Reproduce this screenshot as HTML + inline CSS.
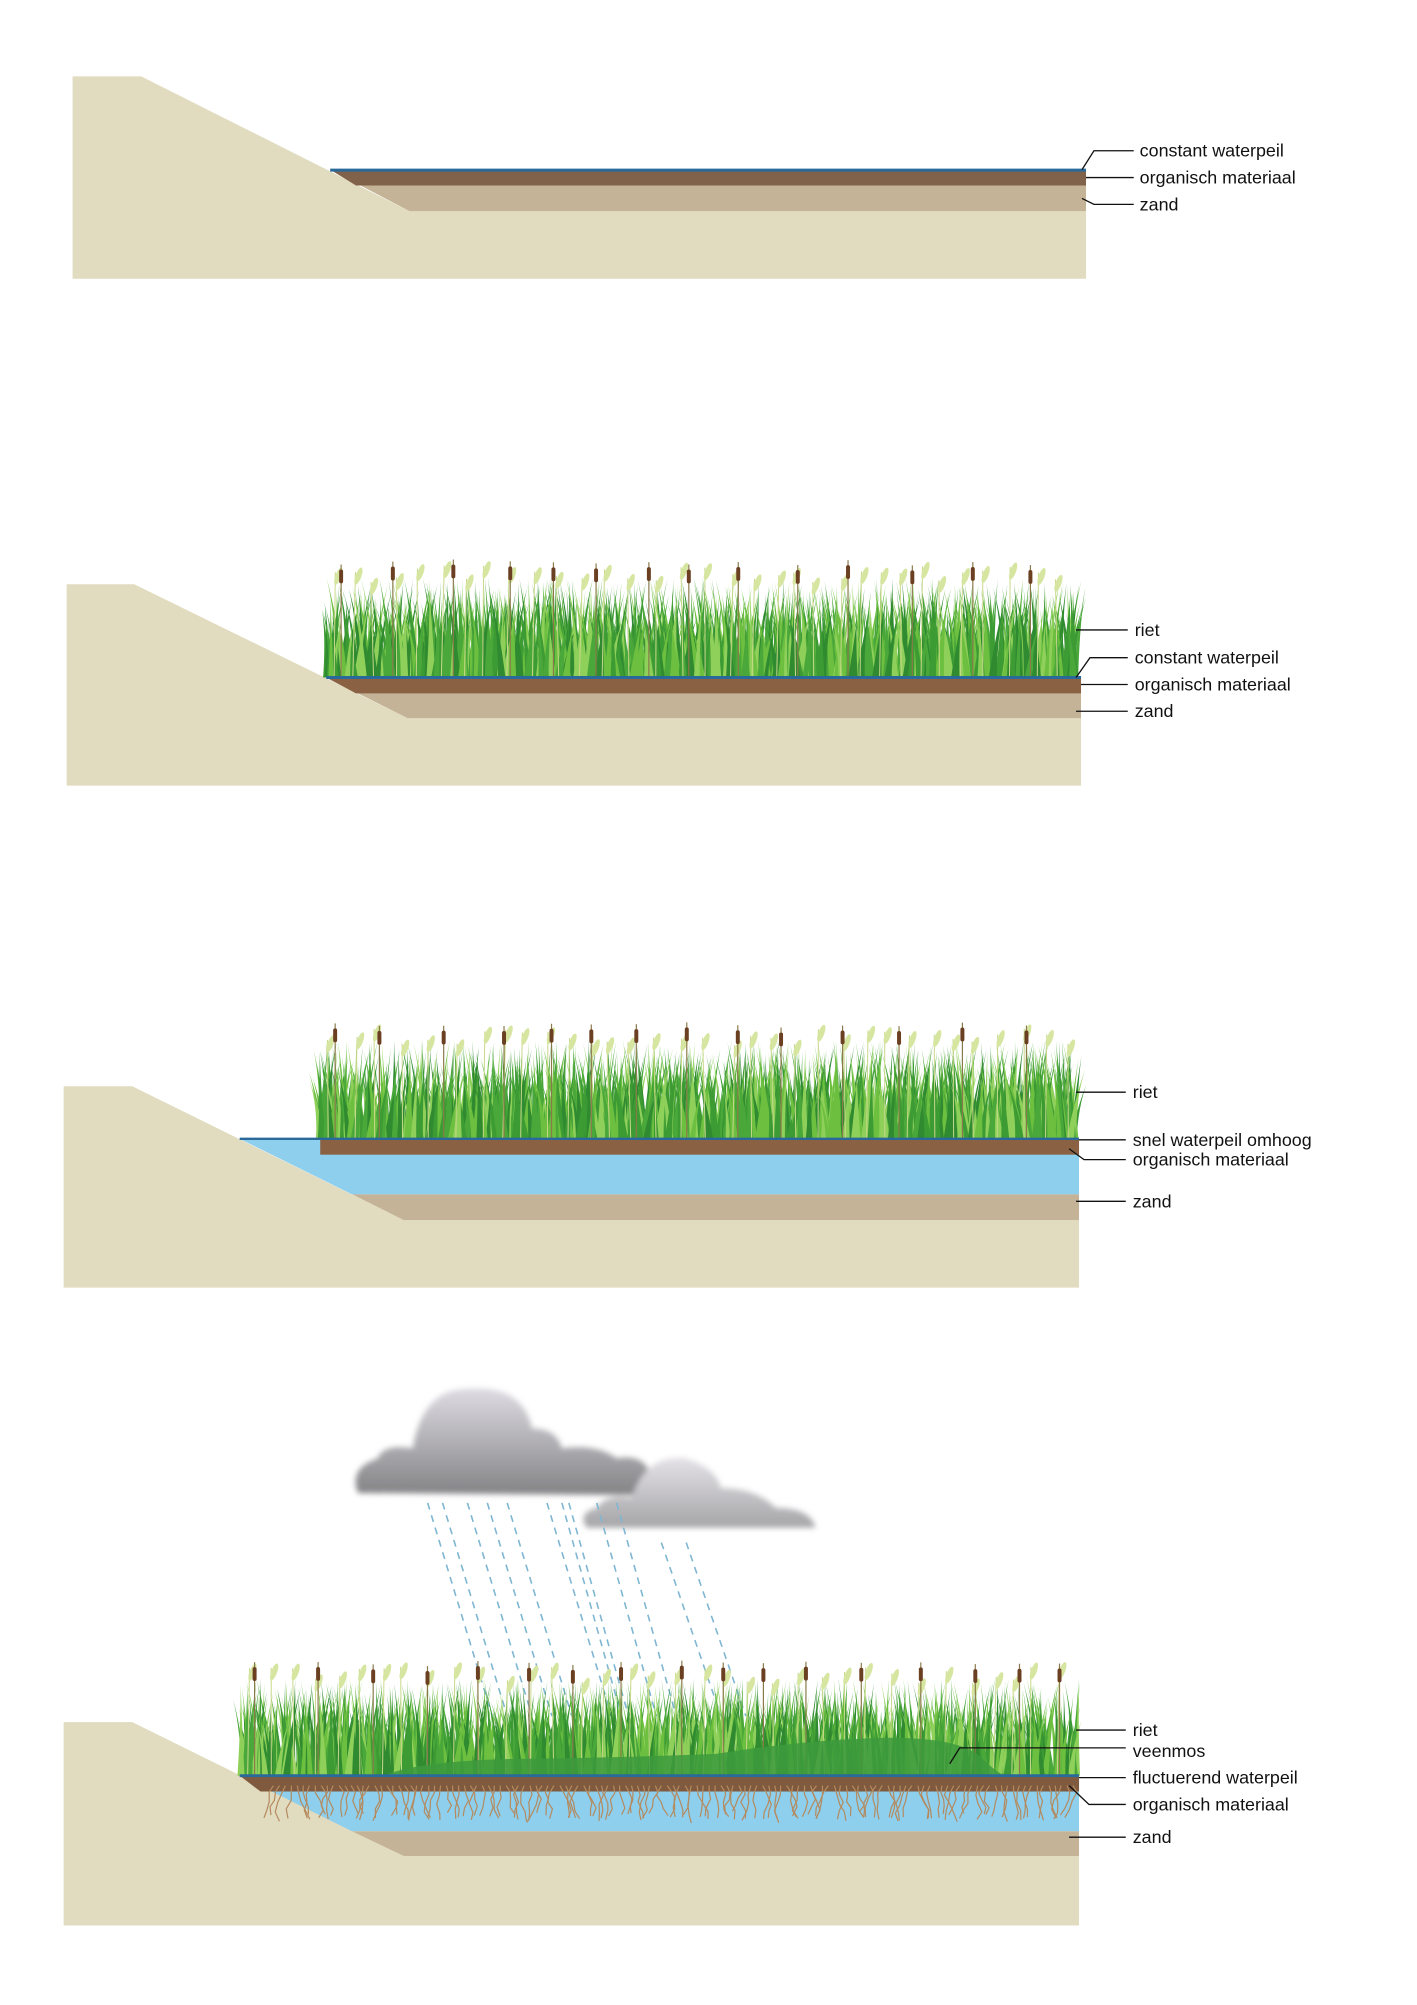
<!DOCTYPE html>
<html><head><meta charset="utf-8"><style>
body{margin:0;background:#fff;}
svg{display:block}
text{font-family:"Liberation Sans",sans-serif;font-size:18px;fill:#111;}
</style></head><body>
<svg id="s" width="1417" height="2005" xmlns="http://www.w3.org/2000/svg">
<defs>
<linearGradient id="cg2" x1="0" y1="0" x2="0" y2="1"><stop offset="0" stop-color="#dedce2"/><stop offset="1" stop-color="#838386"/></linearGradient>
<linearGradient id="cg3" x1="0" y1="0" x2="0" y2="1"><stop offset="0" stop-color="#e4e2e7"/><stop offset="1" stop-color="#a5a5a8"/></linearGradient>
<filter id="bl"><feGaussianBlur stdDeviation="3"/></filter>
</defs>
<g transform="scale(0.9945,0.992)">
<!-- Panel 1 -->
<polygon points="73,77 142,77 412,213 1092,213 1092,281 73,281" fill="#e1dcc0"/>
<polygon points="332,171 1092,171 1092,213 412,213" fill="#c4b396"/>
<polygon points="332,171 1092,171 1092,187 358,187" fill="#80614a"/>
<line x1="332" y1="171.5" x2="1092" y2="171.5" stroke="#2a6a9a" stroke-width="3"/>
<g stroke="#111" stroke-width="1.3" fill="none">
<polyline points="1088,171 1100,152 1140,152"/><line x1="1092" y1="179" x2="1140" y2="179"/><polyline points="1088,200 1100,206 1140,206"/>
</g>
<text x="1146" y="158">constant waterpeil</text><text x="1146" y="185">organisch materiaal</text><text x="1146" y="212">zand</text>

<!-- Panel 2 -->
<polygon points="67,589 135,589 410,724 1087,724 1087,792 67,792" fill="#e1dcc0"/>
<polygon points="328,683 1087,683 1087,724 410,724" fill="#c4b396"/>
<polygon points="328,683 1087,683 1087,699 358,699" fill="#8a6243"/>
<g id="r2"></g>
<line x1="328" y1="683" x2="1087" y2="683" stroke="#2a6a9a" stroke-width="3"/>
<g stroke="#111" stroke-width="1.3" fill="none">
<line x1="1082" y1="635" x2="1134" y2="635"/><polyline points="1082,683 1096,663 1134,663"/><line x1="1087" y1="690" x2="1134" y2="690"/><line x1="1082" y1="717" x2="1134" y2="717"/>
</g>
<text x="1141" y="641">riet</text><text x="1141" y="669">constant waterpeil</text><text x="1141" y="696">organisch materiaal</text><text x="1141" y="723">zand</text>

<!-- Panel 3 -->
<polygon points="64,1095 133,1095 406,1230 1085,1230 1085,1298 64,1298" fill="#e1dcc0"/>
<polygon points="241,1148 1085,1148 1085,1204 354,1204" fill="#8ecfee"/>
<polygon points="354,1204 1085,1204 1085,1230 406,1230" fill="#c4b396"/>
<rect x="322" y="1149" width="763" height="15" fill="#8a6243"/>
<g id="r3"></g>
<line x1="241" y1="1148" x2="1085" y2="1148" stroke="#2a6a9a" stroke-width="2.5"/>
<g stroke="#111" stroke-width="1.3" fill="none">
<line x1="1082" y1="1101" x2="1132" y2="1101"/><line x1="1085" y1="1149" x2="1132" y2="1149"/><polyline points="1075,1158 1090,1169 1132,1169"/><line x1="1082" y1="1211" x2="1132" y2="1211"/>
</g>
<text x="1139" y="1155">snel waterpeil omhoog</text><text x="1139" y="1107">riet</text><text x="1139" y="1175">organisch materiaal</text><text x="1139" y="1217">zand</text>

<!-- Panel 4 -->
<g filter="url(#bl)">
<path d="M360,1505 Q350,1480 380,1470 Q385,1455 415,1460 Q425,1400 470,1400 Q525,1395 535,1440 Q560,1440 565,1460 Q600,1455 620,1470 Q650,1465 655,1490 Q665,1505 640,1507 Z" fill="url(#cg2)"/>
<path d="M590,1540 Q580,1525 600,1520 Q610,1505 635,1510 Q650,1465 690,1470 Q720,1480 725,1500 Q760,1500 780,1520 Q815,1520 820,1540 Z" fill="url(#cg3)"/>
</g>
<g stroke="#7fb6d2" stroke-width="1.6" stroke-dasharray="7,6" id="rain"></g>
<polygon points="64,1736 133,1736 406,1871 1085,1871 1085,1941 64,1941" fill="#e1dcc0"/>
<polygon points="241,1790 1085,1790 1085,1846 354,1846" fill="#8ecfee"/>
<polygon points="354,1846 1085,1846 1085,1871 406,1871" fill="#c4b396"/>
<polygon points="241,1790 1085,1790 1085,1806 262,1806" fill="#7f5a3e"/>
<g id="roots" stroke="#b48a5e" stroke-width="1.2" fill="none"></g>
<g id="r4"></g>
<path d="M386,1790 Q420,1775 520,1773 Q620,1772 720,1768 Q800,1755 880,1752 Q960,1750 985,1770 Q1000,1785 1010,1790 Z" fill="#3d9a3d" opacity="0.85"/>
<line x1="241" y1="1790" x2="1085" y2="1790" stroke="#2a6a9a" stroke-width="3"/>
<g stroke="#111" stroke-width="1.3" fill="none">
<line x1="1082" y1="1744" x2="1132" y2="1744"/><polyline points="955,1778 965,1762 1132,1762"/><line x1="1085" y1="1792" x2="1132" y2="1792"/><polyline points="1075,1800 1095,1819 1132,1819"/><line x1="1075" y1="1852" x2="1132" y2="1852"/>
</g>
<text x="1139" y="1750">riet</text><text x="1139" y="1771">veenmos</text><text x="1139" y="1798">fluctuerend waterpeil</text><text x="1139" y="1825">organisch materiaal</text><text x="1139" y="1858">zand</text>
</g>
</svg>
<script>
var seed=7;function R(){seed=(seed*9301+49297)%233280;return seed/233280;}
var NS="http://www.w3.org/2000/svg";
function el(t,a,p){var e=document.createElementNS(NS,t);for(var k in a)e.setAttribute(k,a[k]);p.appendChild(e);return e;}
function reeds(id,x0,x1,base,top){
 var g=document.getElementById(id);var cols=["#2f8a30","#4aa83a","#6cbf3f","#8fd05a","#3d9b34"];
 var h=base-top;
 for(var i=0;i<(x1-x0)*1.4;i++){
  var x=x0+R()*(x1-x0);var hh=h*(0.45+R()*0.4);var lean=(R()-0.5)*30;var w=2+R()*3;
  var c=cols[Math.floor(R()*cols.length)];
  el("path",{d:"M"+(x-w)+","+base+" Q"+(x+lean*0.3)+","+(base-hh*0.6)+" "+(x+lean)+","+(base-hh)+" Q"+(x+lean*0.3+1)+","+(base-hh*0.6)+" "+(x+w)+","+base+"Z",fill:c},g);
 }
 for(var x=x0+8;x<x1;x+=18+R()*10){
  var hh=h*(0.8+R()*0.15);var lean=(R()-0.5)*6;
  el("path",{d:"M"+x+","+base+" L"+(x+lean)+","+(base-hh),stroke:"#c8d88a","stroke-width":1,fill:"none"},g);
  el("ellipse",{cx:x+lean+3,cy:base-hh+4,rx:3,ry:9,fill:"#d6e6a0",transform:"rotate(20 "+(x+lean+3)+" "+(base-hh+4)+")"},g);
 }
 for(var x=x0+15;x<x1;x+=40+R()*25){
  var hh=h*(0.95+R()*0.05);
  el("line",{x1:x,y1:base,x2:x,y2:base-hh,stroke:"#8a7a4a","stroke-width":1.2},g);
  el("rect",{x:x-2,y:base-hh+5,width:4,height:14,rx:2,fill:"#6b3f22"},g);
 }
}
reeds("r2",328,1082,683,564);
reeds("r3",322,1082,1148,1030);
reeds("r4",241,1082,1790,1674);
var rg=document.getElementById("rain");
[430,445,470,490,510,550,565,572,600,620,665,690].forEach(function(x,i){
 var y1=i>9?1555:1515;el("line",{x1:x,y1:y1,x2:x+(i<6?65:60),y2:1730},rg);
});
var rt=document.getElementById("roots");
for(var x=275;x<1082;x+=6){var d="M"+x+",1800";var cx=x,cy=1800;for(var k=0;k<4;k++){cx+=(R()-0.5)*10;cy+=6+R()*4;d+=" L"+cx.toFixed(1)+","+cy.toFixed(1);}el("path",{d:d},rt);}
</script>
</body></html>
